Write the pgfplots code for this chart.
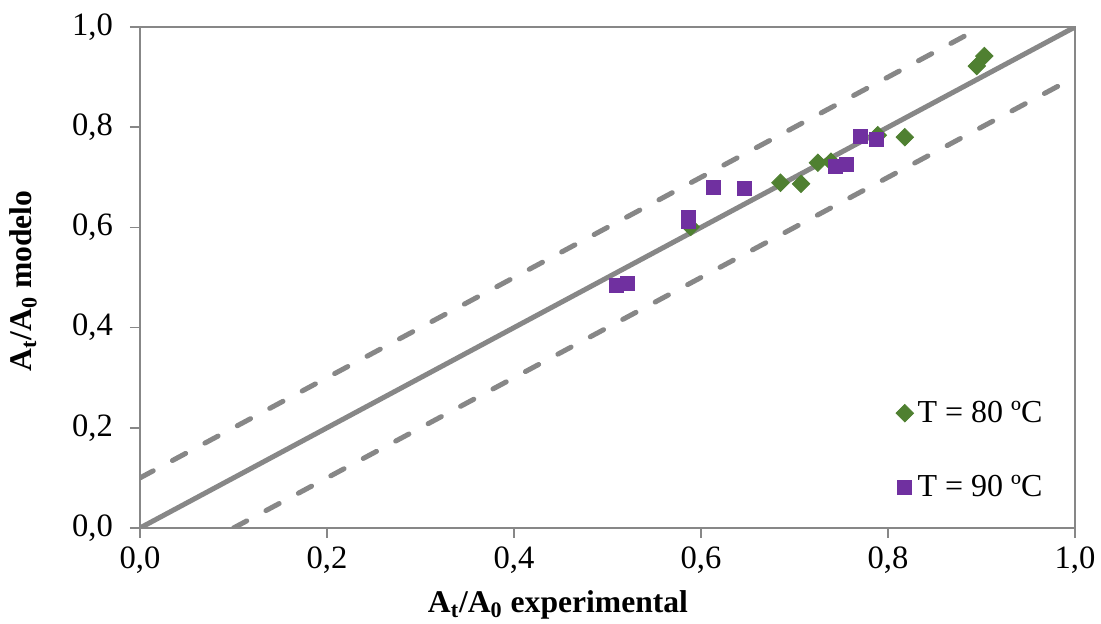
\documentclass[border=0pt]{standalone}
\usepackage{fontspec}
\setmainfont{Liberation Serif}
\usepackage{pgfplots}
\pgfplotsset{compat=1.18}
\definecolor{verde}{HTML}{4F8031}
\definecolor{morado}{HTML}{7030A0}
\definecolor{gris}{HTML}{878787}

\begin{document}
\begin{tikzpicture}
\useasboundingbox (-70pt,-48pt) rectangle (480.5pt,264pt);
\begin{axis}[scale only axis, width=467.5pt, height=250.5pt,
  xmin=0, xmax=1, ymin=0, ymax=1,
  xtick={0,0.2,...,1.0}, ytick={0,0.2,...,1.0},
  tick align=outside, major tick length=5pt,
  axis line style={gris, line width=0.75pt},
  tick style={gris, line width=0.75pt},
  xtick pos=bottom, ytick pos=left,
  /pgf/number format/.cd, use comma, fixed, fixed zerofill, precision=1, assume math mode=true, /pgfplots/.cd,
  tick label style={font=\fontsize{16.3}{19}\selectfont, black},
  yticklabel style={xshift=-5pt},
  xticklabel style={yshift=-1pt},
  xlabel={\textbf{A\textsubscript{t}/A\textsubscript{0} experimental}},
  ylabel={\textbf{A\textsubscript{t}/A\textsubscript{0} modelo}},
  label style={font=\fontsize{15.8}{18}\selectfont},
  xlabel style={at={(rel axis cs:0.447,0)}, anchor=north, yshift=-28pt},
  ylabel style={at={(rel axis cs:0,0.493)}, anchor=south, yshift=48pt},
  legend style={at={(rel axis cs:0.889,0.155)}, anchor=center, draw=none, fill=none,
    font=\fontsize{16}{19}\selectfont, row sep=21pt, inner xsep=0pt},
  legend cell align=left,
]
\addplot[only marks, mark=square*, mark size=3.1pt, mark options={rotate=45, verde, fill=verde}] coordinates {
(0.589,0.601) (0.685,0.689) (0.707,0.687) (0.725,0.729) (0.739,0.731)
(0.789,0.784) (0.818,0.780) (0.895,0.922) (0.903,0.942)
};
\addlegendentry{T = 80 ºC}
\addplot[only marks, mark=square*, mark size=3.5pt, mark options={morado, fill=morado}] coordinates {
(0.510,0.485) (0.521,0.489) (0.587,0.619) (0.586,0.612) (0.613,0.679)
(0.646,0.677) (0.744,0.722) (0.756,0.725) (0.770,0.781) (0.788,0.776)
};
\addlegendentry{T = 90 ºC}
\addplot[gris, line width=2.5pt, forget plot] coordinates {(0,0) (1,1)};
\addplot[gris, line width=2.5pt, line cap=round, dash pattern=on 7.5pt off 10.9pt, forget plot] coordinates {(0,0.1) (0.9,1)};
\addplot[gris, line width=2.5pt, line cap=round, dash pattern=on 7.5pt off 10.9pt, forget plot] coordinates {(0.1,0) (1,0.9)};
\end{axis}
\end{tikzpicture}
\end{document}
